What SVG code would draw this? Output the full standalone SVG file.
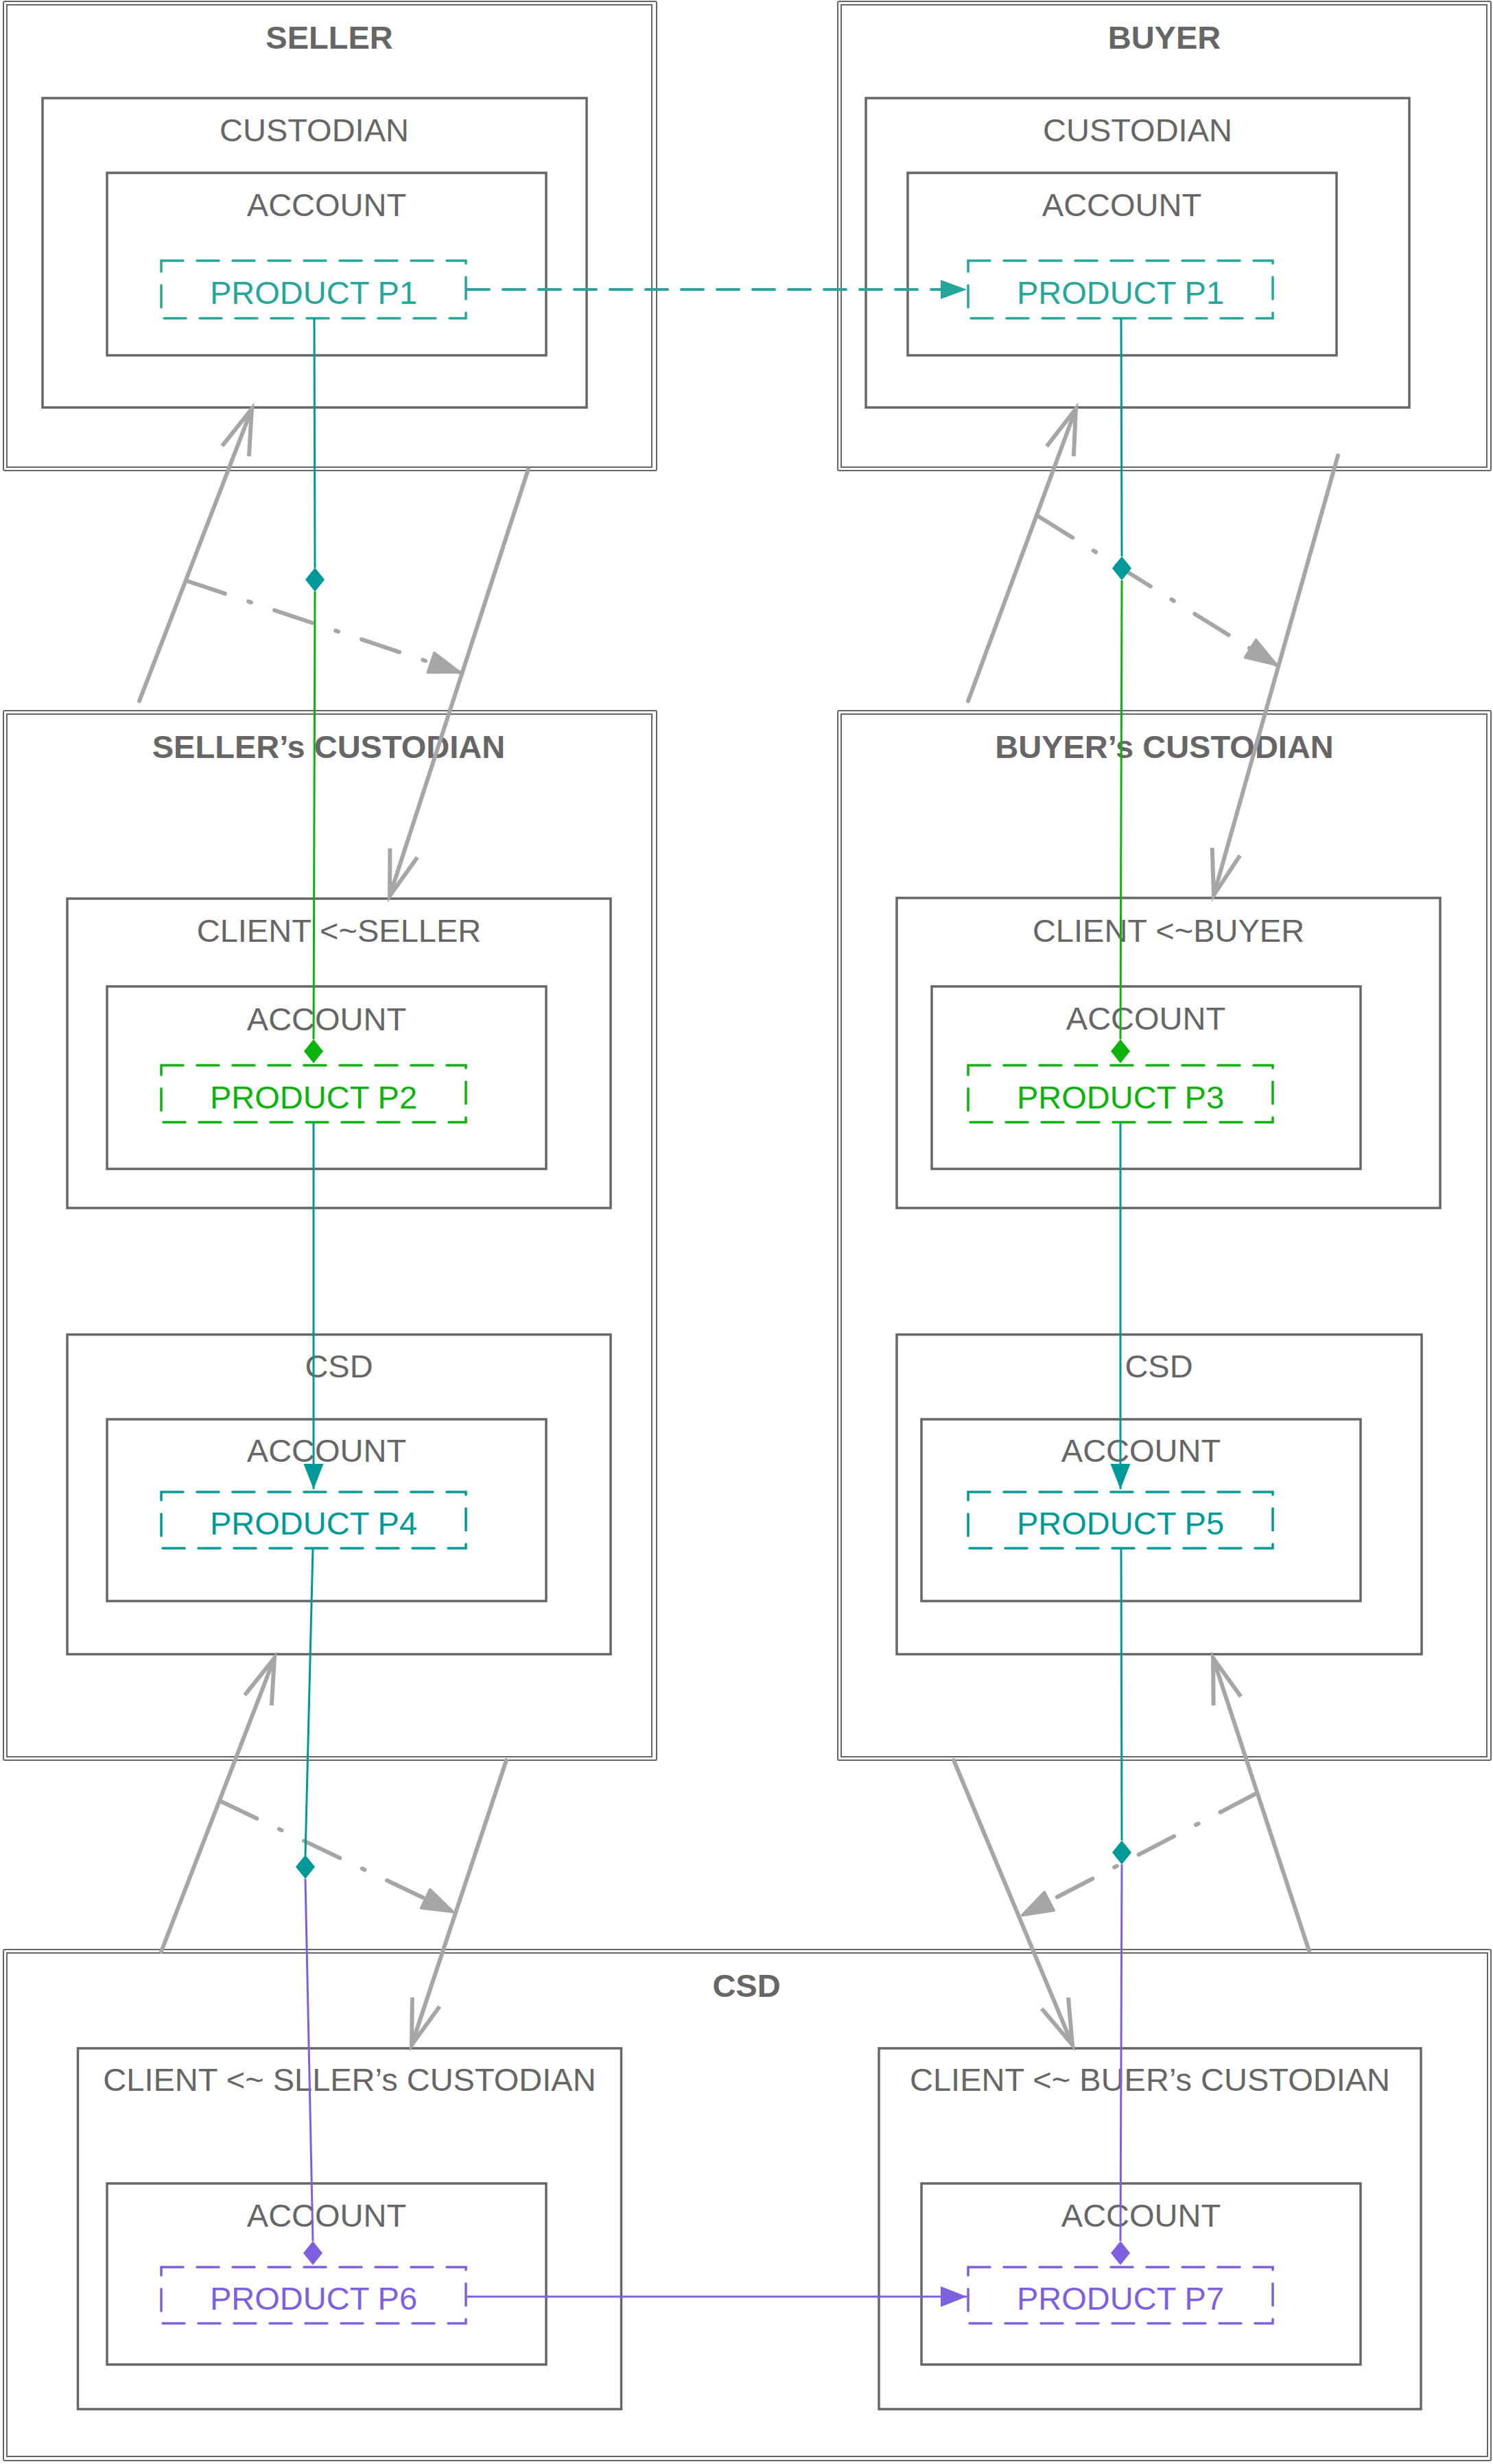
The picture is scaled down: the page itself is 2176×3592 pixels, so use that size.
<svg xmlns="http://www.w3.org/2000/svg" width="2176" height="3592" viewBox="0 0 2176 3592">
<style>
.outer{fill:none;stroke:#666666;stroke-width:2}
.box{fill:none;stroke:#666666;stroke-width:3.5}
.t{font-family:"Liberation Sans",Arial,Helvetica,sans-serif;font-size:47px;fill:#666666;text-anchor:middle}
.tb{font-weight:bold;font-size:47px}
.pb{fill:none;stroke-width:3.5;stroke-dasharray:32 20;stroke-linecap:round}
.c1{stroke:#26a69a}.f1{fill:#26a69a}
.c2{stroke:#009999}.f2{fill:#009999}
.cg{stroke:#0db30d}.fg{fill:#0db30d}
.cp{stroke:#7e5fe0}.fp{fill:#7e5fe0}
.ln{fill:none;stroke-width:3}
.gs{fill:none;stroke:#a6a6a6;stroke-width:6;stroke-linecap:round}
.gd{fill:none;stroke:#a6a6a6;stroke-width:6;stroke-linecap:round;stroke-dasharray:58 36 4 36}
</style>
<defs>
<marker id="open" markerUnits="userSpaceOnUse" viewBox="0 0 72 48" markerWidth="72" markerHeight="48" refX="68" refY="24" orient="auto" overflow="visible"><path d="M2,3 L68,24 L2,45" fill="none" stroke="#a6a6a6" stroke-width="6"/></marker>
<marker id="block" markerUnits="userSpaceOnUse" viewBox="0 0 50 36" markerWidth="50" markerHeight="36" refX="46" refY="17" orient="auto" overflow="visible"><path d="M2,2 L46,17 L2,32 Z" fill="#a6a6a6" stroke="#a6a6a6" stroke-width="4" stroke-linejoin="round"/></marker>
<marker id="tri1" markerUnits="userSpaceOnUse" viewBox="0 0 40 30" markerWidth="40" markerHeight="30" refX="38" refY="14" orient="auto" overflow="visible"><path d="M0,0 L38,14 L0,28 Z" fill="#26a69a"/></marker>
<marker id="tri2" markerUnits="userSpaceOnUse" viewBox="0 0 40 30" markerWidth="40" markerHeight="30" refX="37" refY="14.5" orient="auto" overflow="visible"><path d="M0,0 L37,14.5 L0,29 Z" fill="#009999"/></marker>
<marker id="trip" markerUnits="userSpaceOnUse" viewBox="0 0 40 30" markerWidth="40" markerHeight="30" refX="38" refY="15" orient="auto" overflow="visible"><path d="M0,0 L38,15 L0,30 Z" fill="#7e5fe0"/></marker>
</defs>
<rect width="2176" height="3592" fill="#ffffff"/>

<g id="seller">
<rect class="outer" x="5" y="2" width="952" height="684" rx="2"/>
<rect class="outer" x="10" y="7" width="940" height="674"/>
<text class="t tb" x="480" y="71">SELLER</text>
<g id="seller-custodian">
<rect class="box" x="62" y="143" width="793" height="451"/>
<text class="t" x="458" y="206">CUSTODIAN</text>
</g>
<g id="seller-account">
<rect class="box" x="156" y="252" width="640" height="266"/>
<text class="t" x="476" y="315">ACCOUNT</text>
</g>
<g id="seller-p1">
<rect class="pb c1" x="235" y="380" width="444" height="84"/>
<text class="t f1" x="457" y="443">PRODUCT P1</text>
</g>
</g>

<g id="buyer">
<rect class="outer" x="1221" y="2" width="952" height="684" rx="2"/>
<rect class="outer" x="1226" y="7" width="941" height="674"/>
<text class="t tb" x="1697" y="71">BUYER</text>
<g id="buyer-custodian">
<rect class="box" x="1262" y="143" width="792" height="451"/>
<text class="t" x="1658" y="206">CUSTODIAN</text>
</g>
<g id="buyer-account">
<rect class="box" x="1323" y="252" width="625" height="266"/>
<text class="t" x="1635" y="315">ACCOUNT</text>
</g>
<g id="buyer-p1">
<rect class="pb c1" x="1411" y="380" width="444" height="84"/>
<text class="t f1" x="1633" y="443">PRODUCT P1</text>
</g>
</g>

<g id="sellers-custodian">
<rect class="outer" x="5" y="1036" width="952" height="1530" rx="2"/>
<rect class="outer" x="10" y="1041" width="940" height="1520"/>
<text class="t tb" x="479" y="1105">SELLER’s CUSTODIAN</text>
<g id="client-seller">
<rect class="box" x="98" y="1310" width="792" height="451"/>
<text class="t" x="494" y="1373">CLIENT &lt;~SELLER</text>
</g>
<g id="client-seller-account">
<rect class="box" x="156" y="1438" width="640" height="266"/>
<text class="t" x="476" y="1502">ACCOUNT</text>
</g>
<g id="p2">
<rect class="pb cg" x="235" y="1553" width="444" height="83"/>
<text class="t fg" x="457" y="1616">PRODUCT P2</text>
</g>
<g id="sc-csd">
<rect class="box" x="98" y="1945.5" width="792" height="466"/>
<text class="t" x="494" y="2008">CSD</text>
</g>
<g id="sc-csd-account">
<rect class="box" x="156" y="2069" width="640" height="265"/>
<text class="t" x="476" y="2131">ACCOUNT</text>
</g>
<g id="p4">
<rect class="pb c2" x="235" y="2175" width="444" height="82"/>
<text class="t f2" x="457" y="2237">PRODUCT P4</text>
</g>
</g>

<g id="buyers-custodian">
<rect class="outer" x="1221" y="1036" width="952" height="1530" rx="2"/>
<rect class="outer" x="1226" y="1041" width="941" height="1520"/>
<text class="t tb" x="1697" y="1105">BUYER’s CUSTODIAN</text>
<g id="client-buyer">
<rect class="box" x="1307" y="1309" width="792" height="452"/>
<text class="t" x="1703" y="1373">CLIENT &lt;~BUYER</text>
</g>
<g id="client-buyer-account">
<rect class="box" x="1358" y="1438" width="625" height="266"/>
<text class="t" x="1670" y="1501">ACCOUNT</text>
</g>
<g id="p3">
<rect class="pb cg" x="1411" y="1553" width="444" height="83"/>
<text class="t fg" x="1633" y="1616">PRODUCT P3</text>
</g>
<g id="bc-csd">
<rect class="box" x="1307" y="1945.5" width="765" height="466"/>
<text class="t" x="1689" y="2008">CSD</text>
</g>
<g id="bc-csd-account">
<rect class="box" x="1343" y="2069" width="640" height="265"/>
<text class="t" x="1663" y="2131">ACCOUNT</text>
</g>
<g id="p5">
<rect class="pb c2" x="1411" y="2175" width="444" height="82"/>
<text class="t f2" x="1633" y="2237">PRODUCT P5</text>
</g>
</g>

<g id="csd">
<rect class="outer" x="5" y="2842" width="2168" height="745" rx="2"/>
<rect class="outer" x="10" y="2847" width="2158" height="734"/>
<text class="t tb" x="1088" y="2911">CSD</text>
<g id="client-sc">
<rect class="box" x="113.5" y="2986" width="792" height="526"/>
<text class="t" x="509.5" y="3048">CLIENT &lt;~ SLLER’s CUSTODIAN</text>
</g>
<g id="client-sc-account">
<rect class="box" x="156" y="3183" width="640" height="264"/>
<text class="t" x="476" y="3246">ACCOUNT</text>
</g>
<g id="p6">
<rect class="pb cp" x="235" y="3305" width="444" height="82"/>
<text class="t fp" x="457" y="3367">PRODUCT P6</text>
</g>
<g id="client-bc">
<rect class="box" x="1281" y="2986" width="790" height="526"/>
<text class="t" x="1676" y="3048">CLIENT &lt;~ BUER’s CUSTODIAN</text>
</g>
<g id="client-bc-account">
<rect class="box" x="1343" y="3183" width="640" height="264"/>
<text class="t" x="1663" y="3246">ACCOUNT</text>
</g>
<g id="p7">
<rect class="pb cp" x="1411" y="3305" width="444" height="82"/>
<text class="t fp" x="1633" y="3367">PRODUCT P7</text>
</g>
</g>

<g id="connectors">
<line class="gs" x1="203" y1="1022" x2="367" y2="596" marker-end="url(#open)"/>
<line class="gs" x1="770" y1="684" x2="568" y2="1306" marker-end="url(#open)"/>
<line class="gd" x1="273" y1="847" x2="670" y2="980" marker-end="url(#block)"/>
<line class="gs" x1="1411" y1="1022" x2="1568" y2="596" marker-end="url(#open)"/>
<line class="gs" x1="1950" y1="664" x2="1769" y2="1305" marker-end="url(#open)"/>
<line class="gd" x1="1514" y1="753" x2="1860" y2="969" marker-end="url(#block)"/>
<line class="gs" x1="235" y1="2845" x2="400" y2="2417" marker-end="url(#open)"/>
<line class="gs" x1="738" y1="2566" x2="600" y2="2981" marker-end="url(#open)"/>
<line class="gd" x1="322" y1="2626" x2="660" y2="2787" marker-end="url(#block)"/>
<line class="gs" x1="1390" y1="2566" x2="1563" y2="2981" marker-end="url(#open)"/>
<line class="gs" x1="1908" y1="2844" x2="1768" y2="2417" marker-end="url(#open)"/>
<line class="gd" x1="1830" y1="2615" x2="1490" y2="2792" marker-end="url(#block)"/>
<line class="c1" x1="681" y1="422" x2="1409" y2="422" stroke-width="4" stroke-linecap="round" stroke-dasharray="32 20" marker-end="url(#tri1)"/>
<line class="ln c2" x1="458" y1="464" x2="459" y2="828"/>
<polygon class="f2" points="459,827.5 473,845 459,862.5 445,845"/>
<line class="ln cg" x1="459" y1="862" x2="457" y2="1515"/>
<polygon class="fg" points="457,1515 471,1532.5 457,1550 443,1532.5"/>
<line class="ln c2" x1="457" y1="1636" x2="457" y2="2171" marker-end="url(#tri2)"/>
<line class="ln c2" x1="456" y1="2257" x2="445" y2="2705"/>
<polygon class="f2" points="445,2704 459,2721.5 445,2739 431,2721.5"/>
<line class="ln cp" x1="445" y1="2739" x2="456" y2="3267"/>
<polygon class="fp" points="456,3267 470,3284.5 456,3302 442,3284.5"/>
<line class="ln c2" x1="1634" y1="464" x2="1635" y2="811"/>
<polygon class="f2" points="1635,811 1649,828.5 1635,846 1621,828.5"/>
<line class="ln cg" x1="1635" y1="846" x2="1633" y2="1515"/>
<polygon class="fg" points="1633,1515 1647,1532.5 1633,1550 1619,1532.5"/>
<line class="ln c2" x1="1633" y1="1636" x2="1633" y2="2171" marker-end="url(#tri2)"/>
<line class="ln c2" x1="1634" y1="2257" x2="1635" y2="2683"/>
<polygon class="f2" points="1635,2683 1649,2700.5 1635,2718 1621,2700.5"/>
<line class="ln cp" x1="1635" y1="2718" x2="1633" y2="3267"/>
<polygon class="fp" points="1633,3267 1647,3284.5 1633,3302 1619,3284.5"/>
<line class="ln cp" x1="681" y1="3348" x2="1409" y2="3348" marker-end="url(#trip)"/>
</g>
</svg>
